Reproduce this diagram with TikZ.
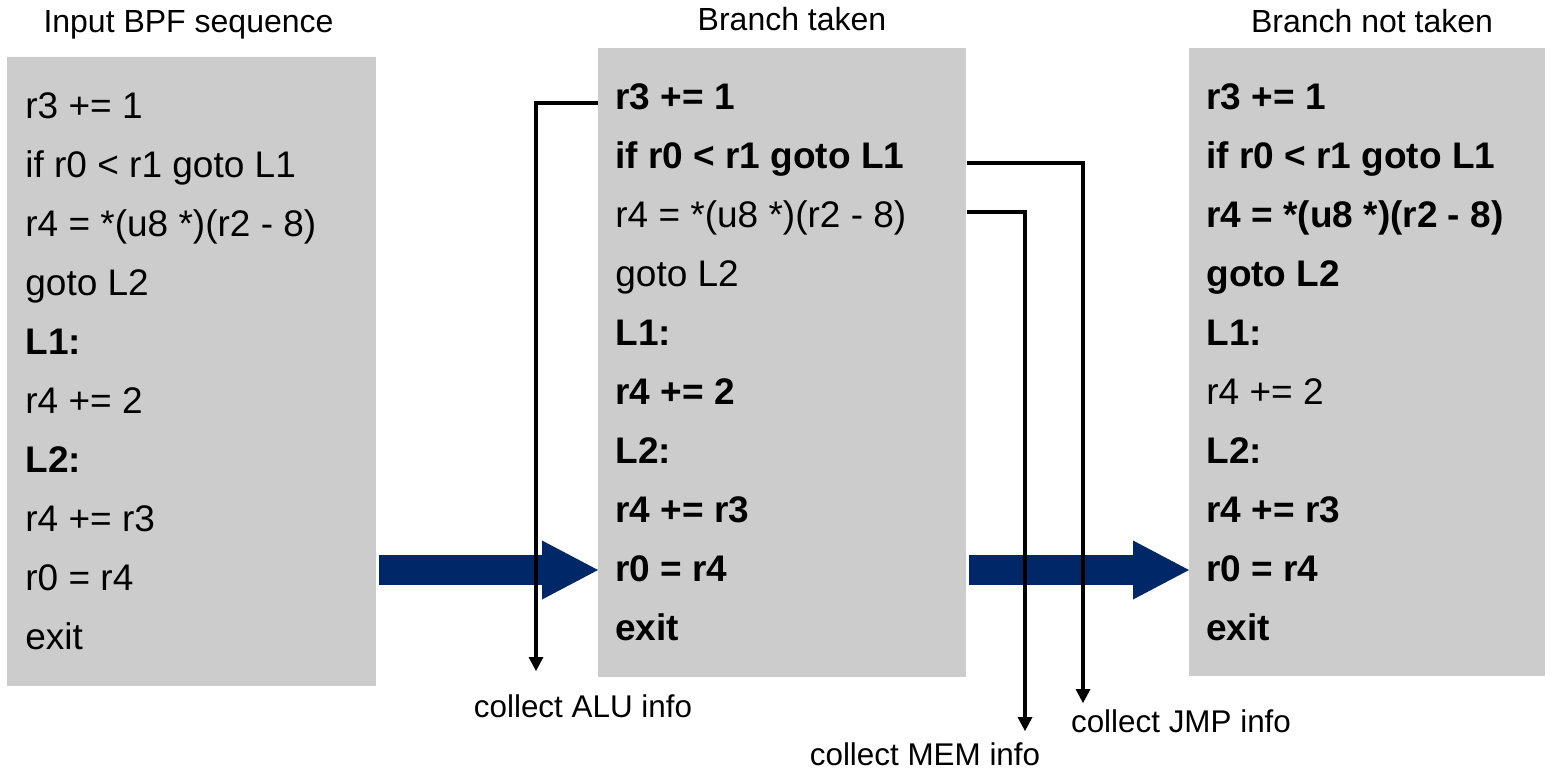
\documentclass[tikz,border=0pt]{standalone}
\usepackage{fontspec}
\setmainfont{Liberation Sans}
\usetikzlibrary{arrows.meta}
\definecolor{boxgray}{RGB}{204,204,204}
\definecolor{navy}{RGB}{0,40,104}
\tikzset{
  panel/.style={fill=boxgray, inner sep=0pt, anchor=north west},
  code/.style={anchor=base west, inner sep=0pt, font=\fontsize{18.5}{22}\selectfont},
  bcode/.style={code, font=\fontsize{18.5}{22}\selectfont\bfseries},
  title/.style={anchor=base, inner sep=0pt, font=\fontsize{16}{19}\selectfont},
  lab/.style={anchor=base, inner sep=0pt, font=\fontsize{15.7}{19}\selectfont},
  bigarrow/.style={navy, line width=15pt, shorten <=1pt,
    -{Triangle[length=28pt, width=29.5pt, line width=0pt]}},
  conn/.style={black, line width=1.9pt,
    -{Triangle[length=7pt, width=7.5pt, line width=0pt]}}
}
\begin{document}
\begin{tikzpicture}[x=0.5pt, y=-0.5pt]
\useasboundingbox (0,0) rectangle (1552,772);

% the three code panels
\node[panel, minimum width=184.5pt, minimum height=314.5pt] (box1) at (7,57) {};
\node[panel, minimum width=184pt, minimum height=314.5pt] (box2) at (598,48) {};
\node[panel, minimum width=178pt, minimum height=314pt] (box3) at (1189,48) {};

% headings
\node[title] (t1) at (188.5,32) {Input BPF sequence};
\node[title] (t2) at (792,30) {Branch taken};
\node[title] (t3) at (1372,32) {Branch not taken};

% input sequence
\node[code]  (b1l1)  at (25,118) {r3 += 1};
\node[code]  (b1l2)  at (25,177) {if r0 < r1 goto L1};
\node[code]  (b1l3)  at (25,236) {r4 = *(u8 *)(r2 - 8)};
\node[code]  (b1l4)  at (25,295) {goto L2};
\node[bcode] (b1l5)  at (25,354) {L1:};
\node[code]  (b1l6)  at (25,413) {r4 += 2};
\node[bcode] (b1l7)  at (25,472) {L2:};
\node[code]  (b1l8)  at (25,531) {r4 += r3};
\node[code]  (b1l9)  at (25,590) {r0 = r4};
\node[code]  (b1l10) at (25,649) {exit};

% branch taken
\node[bcode] (b2l1)  at (615,109) {r3 += 1};
\node[bcode] (b2l2)  at (615,168) {if r0 < r1 goto L1};
\node[code]  (b2l3)  at (615,227) {r4 = *(u8 *)(r2 - 8)};
\node[code]  (b2l4)  at (615,286) {goto L2};
\node[bcode] (b2l5)  at (615,345) {L1:};
\node[bcode] (b2l6)  at (615,404) {r4 += 2};
\node[bcode] (b2l7)  at (615,463) {L2:};
\node[bcode] (b2l8)  at (615,522) {r4 += r3};
\node[bcode] (b2l9)  at (615,581) {r0 = r4};
\node[bcode] (b2l10) at (615,640) {exit};

% branch not taken
\node[bcode] (b3l1)  at (1206,109) {r3 += 1};
\node[bcode] (b3l2)  at (1206,168) {if r0 < r1 goto L1};
\node[bcode] (b3l3)  at (1206,227) {r4 = *(u8 *)(r2 - 8)};
\node[bcode] (b3l4)  at (1206,286) {goto L2};
\node[bcode] (b3l5)  at (1206,345) {L1:};
\node[code]  (b3l6)  at (1206,404) {r4 += 2};
\node[bcode] (b3l7)  at (1206,463) {L2:};
\node[bcode] (b3l8)  at (1206,522) {r4 += r3};
\node[bcode] (b3l9)  at (1206,581) {r0 = r4};
\node[bcode] (b3l10) at (1206,640) {exit};

% flow between panels
\coordinate (flowY) at (0,570);
\draw[bigarrow] (box1.east |- flowY) -- (box2.west |- flowY);
\draw[bigarrow] (box2.east |- flowY) -- (box3.west |- flowY);

% information collection
\coordinate (aluEnd) at (536,671);
\coordinate (memEnd) at (1025,731);
\coordinate (jmpEnd) at (1083,703);
\draw[conn] ([yshift=3.2pt]b2l1.base -| box2.west) -| (aluEnd);
\draw[conn] ([yshift=2.6pt]b2l2.base -| box2.east) -| (jmpEnd);
\draw[conn] ([yshift=7.7pt]b2l3.base -| box2.east) -| (memEnd);

\node[lab] (alu) at (583,717) {collect ALU info};
\node[lab] (jmp) at (1181,732) {collect JMP info};
\node[lab] (mem) at (925,765) {collect MEM info};
\end{tikzpicture}
\end{document}
